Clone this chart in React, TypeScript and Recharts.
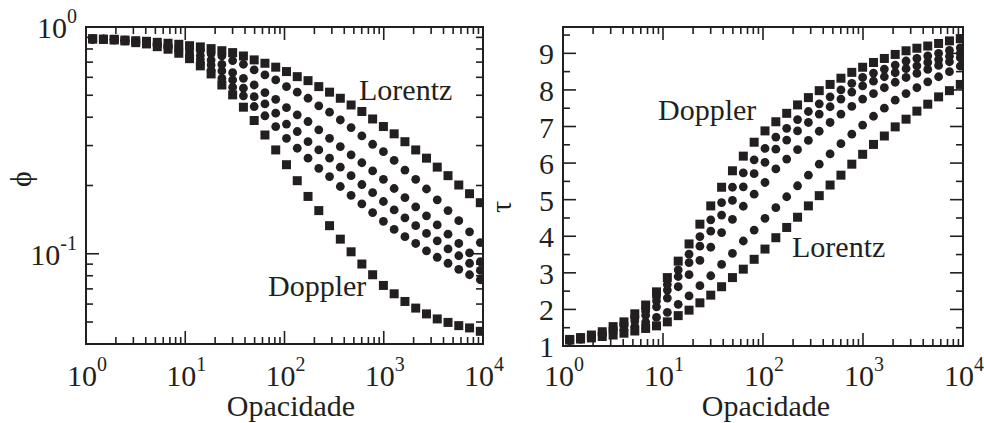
import React from "react";
import { ScatterChart, Scatter, XAxis, YAxis, ReferenceArea } from "recharts";

const INK = "#231f20";
const FONT = "'Liberation Serif', 'Times New Roman', serif";

// Opacidade (shared x grid of both panels)
const opacidade = [
    1.167, 1.498, 1.923, 2.469, 3.17, 4.069, 5.224, 6.707, 8.61, 11.05, 14.19, 18.22, 23.39,
    30.03, 38.55, 49.49, 63.53, 81.56, 104.7, 134.4, 172.6, 221.6, 284.4, 365.1, 468.8, 601.8,
    772.7, 992.0, 1273, 1635, 2099, 2695, 3459, 4441, 5702, 7320, 9397,
];

// left panel: phi
const phiLorentz = [
    0.885, 0.883, 0.883, 0.876, 0.87, 0.865, 0.856, 0.848, 0.839, 0.827, 0.817, 0.803, 0.786,
    0.771, 0.745, 0.716, 0.692, 0.665, 0.636, 0.604, 0.58, 0.546, 0.516, 0.485, 0.453, 0.424,
    0.393, 0.364, 0.338, 0.312, 0.287, 0.264, 0.241, 0.221, 0.201, 0.184, 0.168,
];
const phiC1 = [
    0.885, 0.883, 0.881, 0.875, 0.867, 0.86, 0.848, 0.837, 0.824, 0.806, 0.786, 0.762, 0.745,
    0.711, 0.685, 0.647, 0.615, 0.584, 0.546, 0.516, 0.485, 0.449, 0.421, 0.389, 0.36, 0.331,
    0.304, 0.282, 0.258, 0.234, 0.213, 0.193, 0.173, 0.155, 0.14, 0.125, 0.112,
];
const phiC2 = [
    0.885, 0.883, 0.88, 0.872, 0.862, 0.855, 0.839, 0.825, 0.805, 0.779, 0.748, 0.715, 0.684,
    0.629, 0.594, 0.555, 0.514, 0.48, 0.441, 0.41, 0.383, 0.352, 0.323, 0.297, 0.273, 0.252,
    0.232, 0.213, 0.194, 0.177, 0.161, 0.147, 0.134, 0.122, 0.111, 0.101, 0.0922,
];
const phiC3 = [
    0.885, 0.883, 0.878, 0.87, 0.859, 0.85, 0.831, 0.815, 0.79, 0.759, 0.72, 0.68, 0.64,
    0.584, 0.537, 0.493, 0.458, 0.417, 0.373, 0.346, 0.312, 0.287, 0.264, 0.241, 0.221, 0.202,
    0.186, 0.17, 0.156, 0.144, 0.133, 0.123, 0.114, 0.105, 0.098, 0.0908, 0.0844,
];
const phiC4 = [
    0.885, 0.883, 0.877, 0.869, 0.856, 0.845, 0.825, 0.805, 0.776, 0.739, 0.693, 0.645, 0.593,
    0.543, 0.497, 0.446, 0.406, 0.364, 0.323, 0.292, 0.264, 0.238, 0.219, 0.198, 0.181, 0.166,
    0.152, 0.139, 0.128, 0.119, 0.111, 0.103, 0.0965, 0.0908, 0.0854, 0.0808, 0.0768,
];
const phiDoppler = [
    0.888, 0.883, 0.876, 0.868, 0.853, 0.842, 0.819, 0.798, 0.766, 0.725, 0.674, 0.621, 0.555,
    0.502, 0.443, 0.387, 0.334, 0.287, 0.247, 0.21, 0.179, 0.155, 0.133, 0.116, 0.102, 0.0901,
    0.0808, 0.0725, 0.0666, 0.0616, 0.0576, 0.0543, 0.0516, 0.0498, 0.0482, 0.0471, 0.0455,
];

// right panel: tau
const tauDoppler = [
    1.18, 1.23, 1.3, 1.39, 1.53, 1.66, 1.88, 2.12, 2.48, 2.87, 3.32, 3.79, 4.33, 4.83, 5.34,
    5.79, 6.19, 6.57, 6.88, 7.13, 7.36, 7.59, 7.79, 7.98, 8.15, 8.32, 8.48, 8.62, 8.75, 8.86,
    8.97, 9.07, 9.14, 9.2, 9.27, 9.34, 9.4,
];
const tauC1 = [
    1.17, 1.22, 1.29, 1.37, 1.5, 1.62, 1.81, 2.03, 2.34, 2.68, 3.08, 3.51, 3.99, 4.45, 4.92,
    5.34, 5.73, 6.09, 6.4, 6.71, 6.95, 7.19, 7.41, 7.62, 7.81, 8.0, 8.18, 8.34, 8.46, 8.57,
    8.68, 8.79, 8.86, 8.93, 9.0, 9.08, 9.15,
];
const tauC2 = [
    1.17, 1.22, 1.28, 1.36, 1.47, 1.58, 1.76, 1.95, 2.23, 2.53, 2.9, 3.28, 3.73, 4.14, 4.58,
    4.98, 5.35, 5.71, 6.02, 6.38, 6.63, 6.88, 7.11, 7.34, 7.54, 7.75, 7.94, 8.11, 8.24, 8.36,
    8.47, 8.58, 8.66, 8.75, 8.83, 8.92, 9.0,
];
const tauC3 = [
    1.16, 1.21, 1.26, 1.34, 1.43, 1.53, 1.68, 1.84, 2.07, 2.31, 2.62, 2.95, 3.34, 3.7, 4.1,
    4.46, 4.82, 5.15, 5.47, 5.84, 6.11, 6.37, 6.62, 6.87, 7.11, 7.34, 7.55, 7.75, 7.9, 8.06,
    8.21, 8.34, 8.45, 8.56, 8.67, 8.77, 8.88,
];
const tauC4 = [
    1.15, 1.19, 1.24, 1.3, 1.36, 1.44, 1.54, 1.65, 1.78, 1.92, 2.14, 2.37, 2.65, 2.92, 3.23,
    3.53, 3.87, 4.17, 4.49, 4.78, 5.08, 5.38, 5.67, 5.97, 6.25, 6.53, 6.79, 7.04, 7.28, 7.5,
    7.72, 7.9, 8.06, 8.22, 8.36, 8.5, 8.65,
];
const tauLorentz = [
    1.16, 1.19, 1.22, 1.26, 1.3, 1.35, 1.41, 1.48, 1.55, 1.66, 1.83, 1.98, 2.18, 2.39, 2.62,
    2.87, 3.1, 3.37, 3.65, 3.96, 4.24, 4.52, 4.83, 5.11, 5.4, 5.67, 5.97, 6.24, 6.51, 6.74,
    6.99, 7.2, 7.42, 7.61, 7.81, 7.98, 8.15,
];

// ticks
const xTicks = [
    1, 2, 3, 4, 5, 6, 7, 8, 9, 10, 20, 30, 40, 50, 60, 70, 80, 90, 100, 200, 300, 400, 500,
    600, 700, 800, 900, 1000, 2000, 3000, 4000, 5000, 6000, 7000, 8000, 9000, 10000,
];
const phiTicks = [
    0.05, 0.06, 0.07, 0.08, 0.09, 0.1, 0.2, 0.3, 0.4, 0.5, 0.6, 0.7, 0.8, 0.9, 1,
];
const tauTicks = [1, 1.5, 2, 2.5, 3, 3.5, 4, 4.5, 5, 5.5, 6, 6.5, 7, 7.5, 8, 8.5, 9, 9.5];

const toPoints = (ys: number[]) => ys.map((y, i) => ({ x: opacidade[i], y }));

const isDecade = (v: number) => Math.abs(Math.log10(v) - Math.round(Math.log10(v))) < 1e-9;

const Square = (p: any) => <rect x={p.cx - 4.5} y={p.cy - 4.5} width={9} height={9} fill={INK} />;
const Dot = (p: any) => <circle cx={p.cx} cy={p.cy} r={4.4} fill={INK} />;

const pow10 = (v: number) => (
    <>
        10
        <tspan dy={-15} fontSize={20}>
            {Math.round(Math.log10(v))}
        </tspan>
    </>
);

// one tick mark (inward) + optional label
function makeTick(side: "bottom" | "top" | "left" | "right", major: (v: number) => boolean, label?: (v: number) => any, gap = 42) {
    return (props: any) => {
        const { x, y, payload } = props;
        const v = payload.value;
        const big = major(v);
        const len = big ? 13 : 7;
        let line;
        if (side === "bottom") line = <line x1={x} y1={y} x2={x} y2={y - len} />;
        else if (side === "top") line = <line x1={x} y1={y} x2={x} y2={y + len} />;
        else if (side === "left") line = <line x1={x} y1={y} x2={x + len} y2={y} />;
        else line = <line x1={x} y1={y} x2={x - len} y2={y} />;
        let text = null;
        if (label && big) {
            if (side === "bottom")
                text = (
                    <text x={x + 1} y={y + gap} textAnchor="middle" fontSize={30} fontFamily={FONT} fill={INK}>
                        {label(v)}
                    </text>
                );
            else
                text = (
                    <text x={x - 9} y={y + 11} textAnchor="end" fontSize={30} fontFamily={FONT} fill={INK}>
                        {label(v)}
                    </text>
                );
        }
        return (
            <g>
                <g stroke={INK} strokeWidth={1.6}>{line}</g>
                {text}
            </g>
        );
    };
}

// axes get a 1px size (zero-size axes are not drawn); margins make up for it
const axisCommon = {
    tickSize: 0,
    tickMargin: 0,
    axisLine: false,
    tickLine: false,
    interval: 0 as const,
    allowDataOverflow: true,
};

export default function App() {
    return (
        <div style={{ position: "absolute", left: 0, top: 0, width: 984, height: 423, background: "#fff" }}>
            <div style={{ position: "absolute", left: 0, top: 0 }}>
                <ScatterChart width={520} height={423} margin={{ top: 26, right: 36, bottom: 78, left: 85 }}>
                    <XAxis xAxisId="b" dataKey="x" type="number" scale="log" domain={[1, 10000]} ticks={xTicks} height={1} orientation="bottom" tick={makeTick("bottom", isDecade, pow10, 42)} {...axisCommon} />
                    <XAxis xAxisId="t" dataKey="x" type="number" scale="log" domain={[1, 10000]} ticks={xTicks} height={1} orientation="top" tick={makeTick("top", isDecade)} {...axisCommon} />
                    <YAxis yAxisId="l" dataKey="y" type="number" scale="log" domain={[0.04, 1]} ticks={phiTicks} width={1} orientation="left" tick={makeTick("left", isDecade, pow10)} {...axisCommon} />
                    <YAxis yAxisId="r" dataKey="y" type="number" scale="log" domain={[0.04, 1]} ticks={phiTicks} width={1} orientation="right" tick={makeTick("right", isDecade)} {...axisCommon} />
                    <ReferenceArea xAxisId="b" yAxisId="l" x1={1} x2={10000} y1={0.04} y2={1} fill="none" stroke={INK} strokeWidth={2} />
                    <Scatter xAxisId="b" yAxisId="l" data={toPoints(phiC1)} shape={Dot} isAnimationActive={false} />
                    <Scatter xAxisId="b" yAxisId="l" data={toPoints(phiC2)} shape={Dot} isAnimationActive={false} />
                    <Scatter xAxisId="b" yAxisId="l" data={toPoints(phiC3)} shape={Dot} isAnimationActive={false} />
                    <Scatter xAxisId="b" yAxisId="l" data={toPoints(phiC4)} shape={Dot} isAnimationActive={false} />
                    <Scatter xAxisId="b" yAxisId="l" data={toPoints(phiLorentz)} shape={Square} isAnimationActive={false} />
                    <Scatter xAxisId="b" yAxisId="l" data={toPoints(phiDoppler)} shape={Square} isAnimationActive={false} />
                </ScatterChart>
            </div>
            <div style={{ position: "absolute", left: 490, top: 0 }}>
                <ScatterChart width={494} height={423} margin={{ top: 26, right: 20, bottom: 76, left: 72 }}>
                    <XAxis xAxisId="b" dataKey="x" type="number" scale="log" domain={[1, 10000]} ticks={xTicks} height={1} orientation="bottom" tick={makeTick("bottom", isDecade, pow10, 40)} {...axisCommon} />
                    <XAxis xAxisId="t" dataKey="x" type="number" scale="log" domain={[1, 10000]} ticks={xTicks} height={1} orientation="top" tick={makeTick("top", isDecade)} {...axisCommon} />
                    <YAxis yAxisId="l" dataKey="y" type="number" domain={[1, 9.72]} ticks={tauTicks} width={1} orientation="left" tick={makeTick("left", Number.isInteger, (v) => String(v))} {...axisCommon} />
                    <YAxis yAxisId="r" dataKey="y" type="number" domain={[1, 9.72]} ticks={tauTicks} width={1} orientation="right" tick={makeTick("right", Number.isInteger)} {...axisCommon} />
                    <ReferenceArea xAxisId="b" yAxisId="l" x1={1} x2={10000} y1={1} y2={9.72} fill="none" stroke={INK} strokeWidth={2} />
                    <Scatter xAxisId="b" yAxisId="l" data={toPoints(tauC1)} shape={Dot} isAnimationActive={false} />
                    <Scatter xAxisId="b" yAxisId="l" data={toPoints(tauC2)} shape={Dot} isAnimationActive={false} />
                    <Scatter xAxisId="b" yAxisId="l" data={toPoints(tauC3)} shape={Dot} isAnimationActive={false} />
                    <Scatter xAxisId="b" yAxisId="l" data={toPoints(tauC4)} shape={Dot} isAnimationActive={false} />
                    <Scatter xAxisId="b" yAxisId="l" data={toPoints(tauLorentz)} shape={Square} isAnimationActive={false} />
                    <Scatter xAxisId="b" yAxisId="l" data={toPoints(tauDoppler)} shape={Square} isAnimationActive={false} />
                </ScatterChart>
            </div>
            {/* axis titles and curve labels */}
            <svg width={984} height={423} style={{ position: "absolute", left: 0, top: 0, pointerEvents: "none" }}>
                <g fontFamily={FONT} fontSize={30} fill={INK}>
                    <text x={291} y={416} textAnchor="middle">Opacidade</text>
                    <text x={766} y={416} textAnchor="middle">Opacidade</text>
                    <text x={31} y={179} textAnchor="middle" transform="rotate(-90 31 179)">ϕ</text>
                    <text x={511} y={207} textAnchor="middle" transform="rotate(-90 511 207)">τ</text>
                    <text x={359} y={100}>Lorentz</text>
                    <text x={268} y={296}>Doppler</text>
                    <text x={658} y={120}>Doppler</text>
                    <text x={792} y={257}>Lorentz</text>
                </g>
            </svg>
        </div>
    );
}
